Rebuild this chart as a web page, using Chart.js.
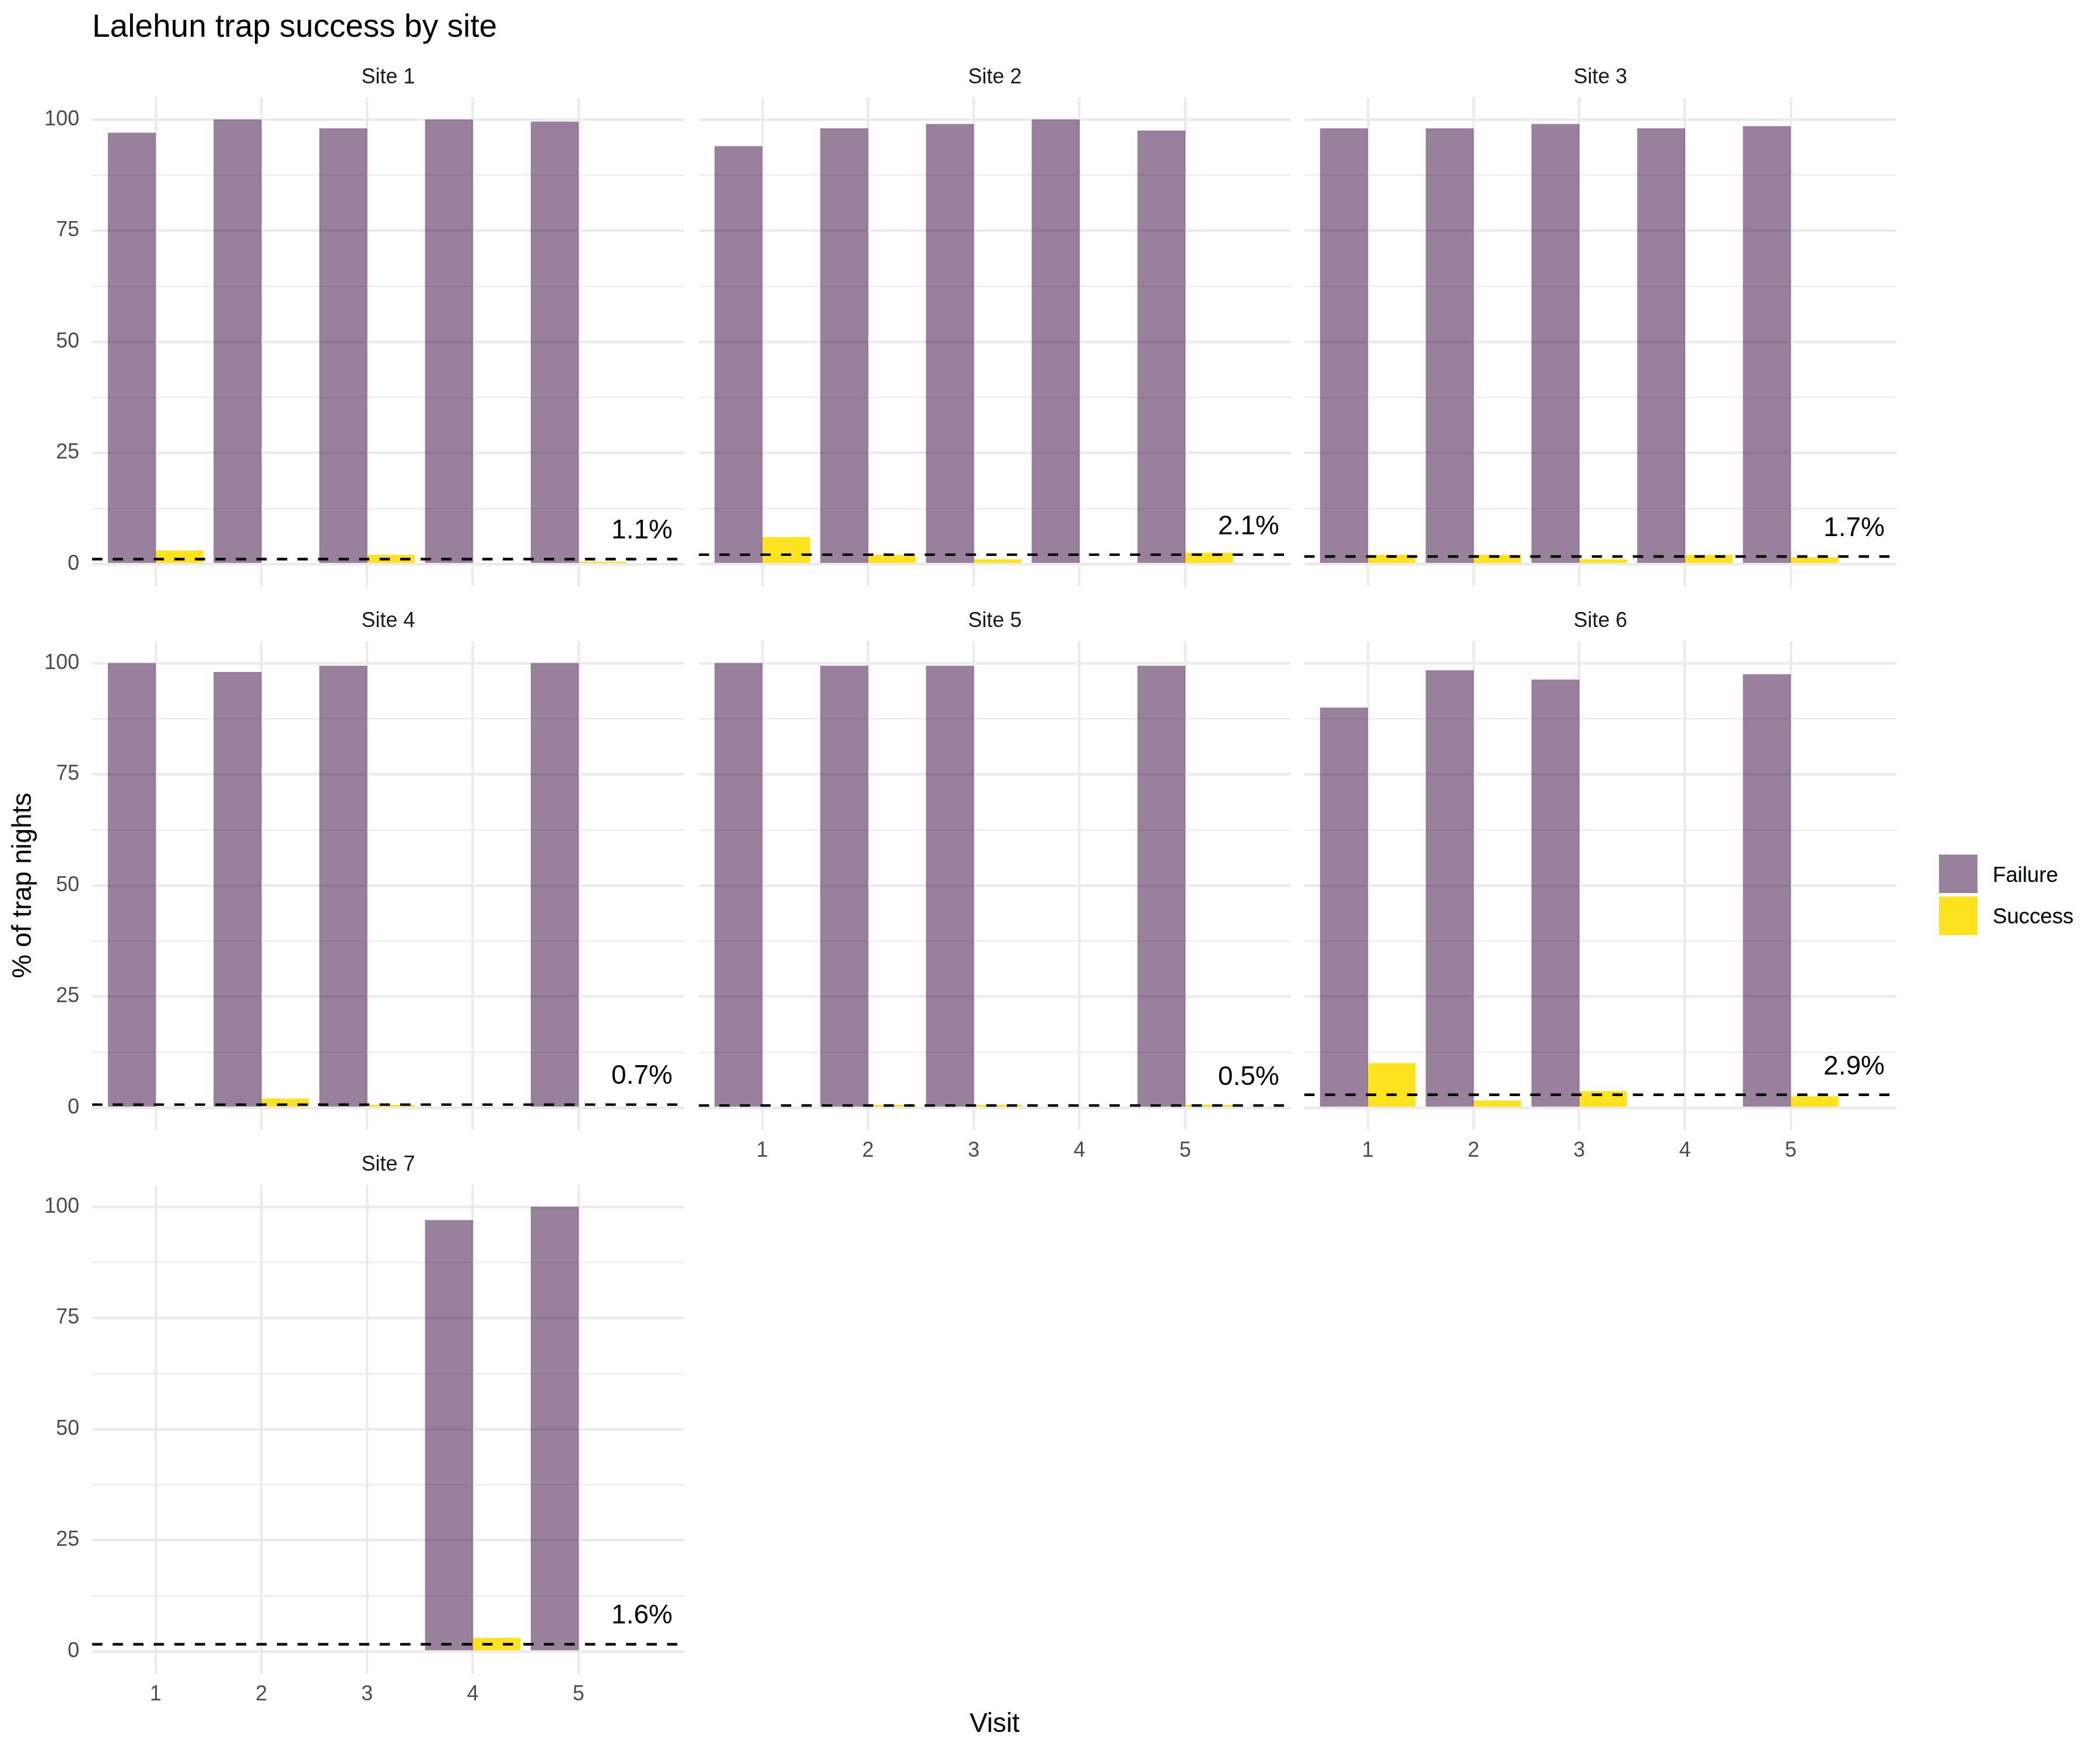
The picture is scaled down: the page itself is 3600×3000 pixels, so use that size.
<!DOCTYPE html>
<html>
<head>
<meta charset="utf-8">
<script src="https://cdn.jsdelivr.net/npm/chart.js@4.4.1/dist/chart.umd.min.js"></script>
<style>
html, body { margin: 0; padding: 0; background: #ffffff; }
body { width: 3600px; height: 3000px; position: relative; overflow: hidden; font-family: "Liberation Sans", Arial, Helvetica, sans-serif; }
canvas { position: absolute; }
.txt { position: absolute; white-space: nowrap; line-height: 1.117; color: #000; }
.key { position: absolute; width: 66px; height: 66px; }
</style>
</head>
<body>
<div class="txt" style="left:158px; top:14px; font-size:55px;">Lalehun trap success by site</div>
<div class="txt" style="left:38px; top:1518px; font-size:45.8px; transform: translate(-50%,-50%) rotate(-90deg);">% of trap nights</div>
<div class="txt" style="left:1705px; top:2928px; font-size:45.8px; transform: translateX(-50%);">Visit</div>
<div class="key" style="left:3324px; top:1465px; background: rgba(52,1,60,0.5);"></div>
<div class="key" style="left:3324px; top:1537px; background: #FCE31E;"></div>
<div class="txt" style="left:3416px; top:1479px; font-size:36.7px;">Failure</div>
<div class="txt" style="left:3416px; top:1550px; font-size:36.7px;">Success</div>

<script>
// ---------------- data ----------------
const siteNames = ['Site 1', 'Site 2', 'Site 3', 'Site 4', 'Site 5', 'Site 6', 'Site 7'];
const visits = [1, 2, 3, 4, 5];
const seriesNames = ['Failure', 'Success'];

const site1Failure = [97, 100, 98, 100, 99.5];
const site1Success = [3, null, 2, null, 0.5];
const site2Failure = [94, 98, 99, 100, 97.5];
const site2Success = [6, 2, 1, null, 2.5];
const site3Failure = [98, 98, 99, 98, 98.5];
const site3Success = [2, 2, 1, 2, 1.5];
const site4Failure = [100, 98, 99.4, null, 100];
const site4Success = [null, 2, 0.6, null, null];
const site5Failure = [100, 99.4, 99.4, null, 99.4];
const site5Success = [null, 0.6, 0.6, null, 0.6];
const site6Failure = [90, 98.4, 96.3, null, 97.5];
const site6Success = [10, 1.6, 3.7, null, 2.5];
const site7Failure = [null, null, null, 97, 100];
const site7Success = [null, null, null, 3, null];

const overallSuccess = [1.1, 2.1, 1.7, 0.7, 0.5, 2.9, 1.6];

const yMajorTicks = [0, 25, 50, 75, 100];
const yMinorTicks = [12.5, 37.5, 62.5, 87.5];

const failureBySite = [site1Failure, site2Failure, site3Failure, site4Failure, site5Failure, site6Failure, site7Failure];
const successBySite = [site1Success, site2Success, site3Success, site4Success, site5Success, site6Success, site7Success];

// ---------------- layout / style ----------------
const FONT = '"Liberation Sans", Arial, Helvetica, sans-serif';
const xMin = 0.4, xMax = 6.0;
const yMin = -5, yMax = 105;
const labelX = 5.6, labelOffset = 6.3;
const colLeft = [158, 1198, 2236];
const rowTop = [167, 1099, 2031];
const PW = 1015, PH = 838;
const AXW = 110, STRIP = 80, XAXH = 90;
const BAR = 0.45 * PW / (xMax - xMin);
const failureColor = 'rgba(52,1,60,0.5)';
const successColor = '#FCE31E';
const gridColor = '#EBEBEB';

Chart.defaults.font.family = FONT;

const pctLabelPlugin = {
  id: 'pctLabel',
  afterDatasetsDraw(chart, args, opts) {
    const { ctx, scales: { x, y } } = chart;
    ctx.save();
    ctx.font = '46px ' + FONT;
    ctx.fillStyle = '#000000';
    ctx.textAlign = 'center';
    ctx.textBaseline = 'middle';
    ctx.fillText(opts.text, x.getPixelForValue(labelX), y.getPixelForValue(opts.value + labelOffset));
    ctx.restore();
  }
};

function makePanel(i) {
  const col = i % 3, row = Math.floor(i / 3);
  const canvas = document.createElement('canvas');
  canvas.width = AXW + PW;
  canvas.height = STRIP + PH + XAXH;
  canvas.style.left = (colLeft[col] - AXW) + 'px';
  canvas.style.top = (rowTop[row] - STRIP) + 'px';
  canvas.style.width = canvas.width + 'px';
  canvas.style.height = canvas.height + 'px';
  document.body.appendChild(canvas);
  const showY = col === 0;
  const showX = i >= 4;
  const pct = overallSuccess[i];

  new Chart(canvas, {
    type: 'bar',
    data: {
      datasets: [
        {
          type: 'line', label: 'overall',
          data: [{ x: xMin, y: pct }, { x: xMax, y: pct }],
          borderColor: '#000000', borderWidth: 4.4, borderDash: [17.6, 17.6],
          pointRadius: 0, fill: false, tension: 0
        },
        {
          label: seriesNames[0],
          data: visits.map((v, k) => ({ x: v, y: failureBySite[i][k] })),
          backgroundColor: failureColor, borderWidth: 0, barThickness: BAR
        },
        {
          label: seriesNames[1],
          data: visits.map((v, k) => ({ x: v, y: successBySite[i][k] })),
          backgroundColor: successColor, borderWidth: 0, barThickness: BAR
        }
      ]
    },
    options: {
      responsive: false, animation: false, devicePixelRatio: 1,
      layout: { padding: 0 },
      plugins: {
        legend: { display: false },
        tooltip: { enabled: false },
        title: {
          display: true, text: siteNames[i], fullSize: false, color: '#1A1A1A',
          font: { family: FONT, size: 36, weight: 'normal' },
          padding: { top: 24, bottom: 12.8 }
        },
        pctLabel: { value: pct, text: pct.toFixed(1) + '%' }
      },
      scales: {
        x: {
          type: 'linear', min: xMin, max: xMax, offset: false,
          afterBuildTicks: s => { s.ticks = visits.map(v => ({ value: v })); },
          afterFit: s => { s.height = XAXH; },
          grid: { color: gridColor, lineWidth: 4.4, drawTicks: false, offset: false },
          border: { display: false },
          ticks: {
            display: showX, padding: 14, color: '#4D4D4D', autoSkip: false, maxRotation: 0,
            font: { family: FONT, size: 36 }, callback: v => String(v)
          }
        },
        y: {
          type: 'linear', min: yMin, max: yMax,
          afterBuildTicks: s => {
            s.ticks = yMajorTicks.concat(yMinorTicks).sort((a, b) => a - b).map(v => ({ value: v }));
          },
          afterFit: s => { s.width = AXW; },
          grid: {
            color: gridColor, drawTicks: false,
            lineWidth: ctx => (ctx.tick && yMajorTicks.includes(ctx.tick.value)) ? 4.4 : 2.2
          },
          border: { display: false },
          ticks: {
            display: showY, padding: 22, color: '#4D4D4D', autoSkip: false,
            font: { family: FONT, size: 36 },
            callback: v => yMajorTicks.includes(v) ? String(v) : ''
          }
        }
      }
    },
    plugins: [pctLabelPlugin]
  });
}

for (let i = 0; i < siteNames.length; i++) makePanel(i);
</script>
</body>
</html>
